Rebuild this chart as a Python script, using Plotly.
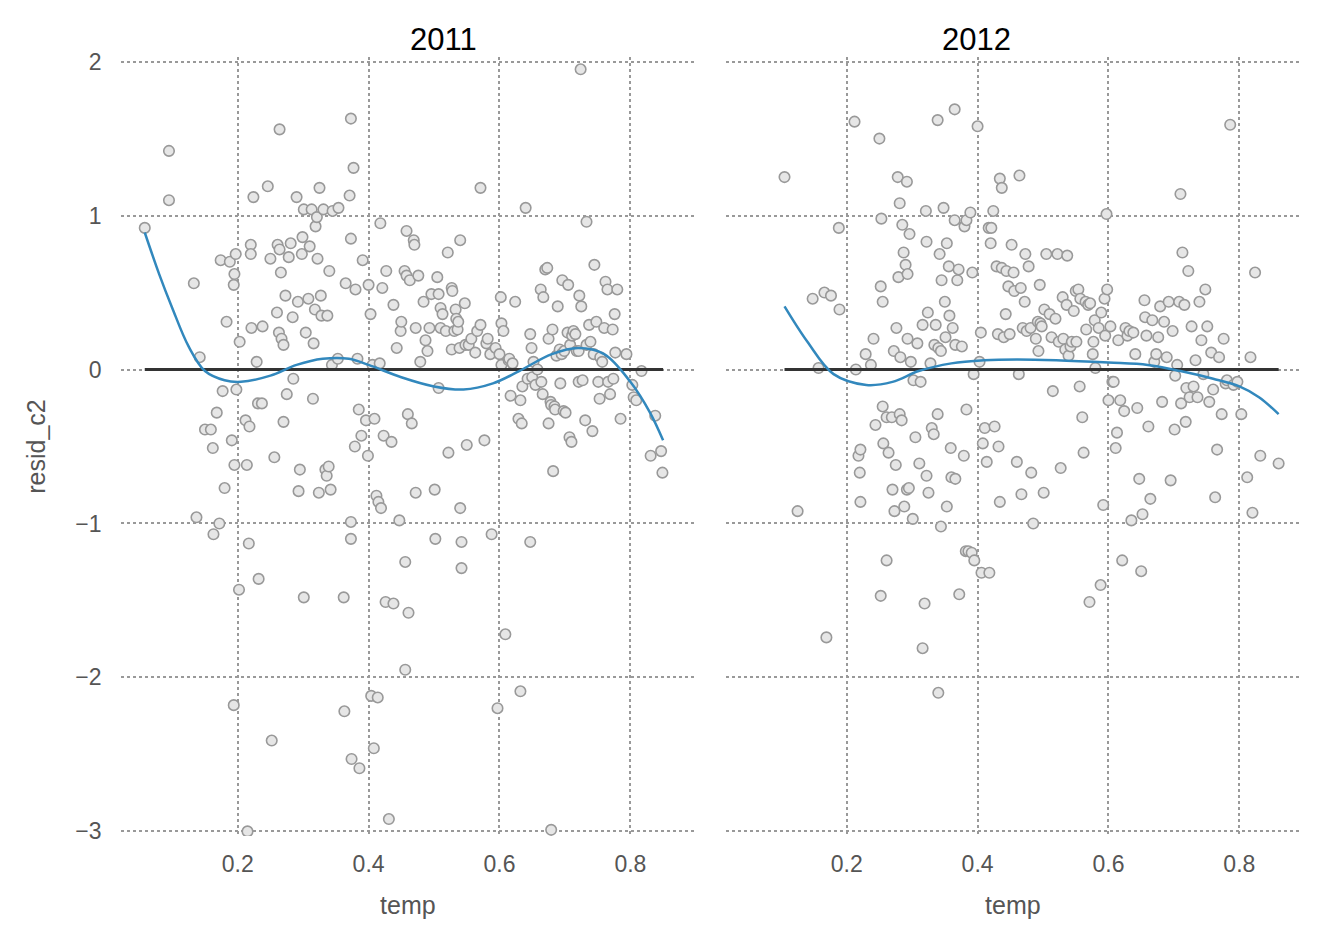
import plotly.graph_objects as go

# ---- 2011 ----
temp_2011 = [0.058,0.095,0.095,0.133,0.142,0.137,0.15,0.159,0.162,0.163,0.168,0.172,0.174,0.177,0.18,0.183,0.188,0.191,0.194,0.195,0.195,0.197,0.198,0.194,0.202,0.203,0.212,0.214,0.217,0.218,0.22,0.22,0.221,0.224,0.229,0.231,0.232,0.237,0.238,0.246,0.25,0.252,0.256,0.26,0.261,0.263,0.264,0.264,0.266,0.267,0.27,0.27,0.273,0.275,0.278,0.281,0.284,0.285,0.29,0.292,0.293,0.295,0.298,0.299,0.301,0.301,0.304,0.308,0.31,0.313,0.315,0.316,0.318,0.319,0.321,0.322,0.324,0.325,0.327,0.328,0.331,0.334,0.336,0.337,0.339,0.34,0.342,0.344,0.345,0.353,0.354,0.362,0.363,0.365,0.371,0.373,0.373,0.373,0.373,0.374,0.377,0.379,0.38,0.383,0.385,0.386,0.389,0.391,0.396,0.399,0.40,0.403,0.404,0.406,0.408,0.409,0.412,0.414,0.415,0.417,0.418,0.419,0.421,0.423,0.426,0.427,0.431,0.435,0.438,0.438,0.443,0.447,0.449,0.45,0.455,0.456,0.458,0.458,0.46,0.461,0.463,0.456,0.466,0.469,0.47,0.472,0.472,0.476,0.479,0.484,0.487,0.49,0.493,0.496,0.501,0.502,0.505,0.507,0.507,0.51,0.51,0.513,0.518,0.521,0.522,0.527,0.527,0.528,0.531,0.533,0.534,0.536,0.537,0.539,0.54,0.54,0.542,0.542,0.547,0.548,0.55,0.553,0.557,0.563,0.566,0.571,0.571,0.577,0.58,0.582,0.586,0.588,0.594,0.597,0.60,0.602,0.603,0.603,0.606,0.609,0.614,0.615,0.617,0.62,0.624,0.629,0.632,0.632,0.634,0.635,0.64,0.643,0.647,0.647,0.649,0.65,0.652,0.655,0.658,0.663,0.664,0.666,0.667,0.67,0.673,0.675,0.675,0.678,0.679,0.679,0.681,0.682,0.684,0.685,0.687,0.689,0.692,0.693,0.695,0.696,0.698,0.699,0.701,0.704,0.705,0.707,0.708,0.71,0.711,0.713,0.716,0.718,0.721,0.721,0.722,0.724,0.725,0.727,0.731,0.733,0.733,0.737,0.739,0.742,0.744,0.745,0.748,0.751,0.753,0.754,0.757,0.76,0.762,0.765,0.766,0.769,0.773,0.774,0.776,0.777,0.78,0.785,0.794,0.803,0.805,0.809,0.817,0.831,0.838,0.847,0.849,0.215]
resid_2011 = [0.92,1.42,1.10,0.56,0.08,-0.96,-0.39,-0.39,-0.51,-1.07,-0.28,-1.00,0.71,-0.14,-0.77,0.31,0.70,-0.46,0.55,0.62,-0.62,0.75,-0.13,-2.18,-1.43,0.18,-0.33,-0.62,-1.13,-0.37,0.81,0.75,0.27,1.12,0.05,-0.22,-1.36,-0.22,0.28,1.19,0.72,-2.41,-0.57,0.37,0.81,0.24,1.56,0.78,0.63,0.20,0.16,-0.34,0.48,-0.16,0.73,0.82,0.34,-0.06,1.12,0.44,-0.79,-0.65,0.75,0.86,1.04,-1.48,0.24,0.46,0.80,1.04,-0.19,0.17,0.39,0.93,0.99,0.72,-0.80,1.18,0.48,0.35,1.04,-0.65,-0.69,0.35,-0.63,0.64,-0.78,0.03,1.03,0.07,1.05,-1.48,-2.22,0.56,1.13,1.63,0.85,-0.99,-1.10,-2.53,1.31,-0.50,0.52,0.07,-0.26,-2.59,-0.43,0.71,-0.33,-0.56,0.55,0.36,-2.12,0.03,-2.46,-0.32,-0.82,-2.13,-0.86,0.04,0.95,-0.90,0.53,-0.43,-1.51,0.64,-2.92,-0.47,0.42,-1.52,0.14,-0.98,0.25,0.31,0.64,-1.25,0.90,0.61,-0.29,-1.58,0.58,-1.95,-0.35,0.84,0.81,0.27,-0.80,0.61,0.05,0.44,0.19,0.12,0.27,0.49,-0.78,-1.10,0.60,0.49,-0.12,0.40,0.27,0.36,0.25,0.76,-0.54,0.53,0.13,0.51,0.25,0.39,0.33,0.26,0.31,0.14,0.84,-0.90,-1.29,-1.12,0.43,0.16,-0.49,0.16,0.20,0.11,0.25,1.18,0.29,-0.46,0.17,0.20,0.10,-1.07,0.14,-2.20,0.10,0.47,0.30,0.03,0.25,-1.72,0.06,0.07,-0.17,0.04,0.44,-0.32,-2.09,-0.20,-0.35,-0.11,1.05,-0.06,0.23,-1.12,0.14,-0.05,0.05,-0.10,0.00,0.52,-0.08,-0.16,0.47,0.65,0.66,0.20,-0.35,-0.21,-2.99,-0.23,0.26,-0.66,-0.24,-0.26,0.09,0.41,0.13,-0.09,0.10,0.58,-0.27,0.12,-0.28,0.24,0.55,-0.44,0.16,-0.47,0.22,0.25,0.23,0.12,0.12,-0.08,0.48,1.95,0.41,-0.07,-0.33,0.96,0.16,0.29,0.18,-0.40,0.10,0.68,0.31,-0.08,-0.19,0.08,0.05,0.27,0.57,0.52,-0.08,-0.16,0.26,-0.06,0.36,0.11,0.52,-0.32,0.10,-0.10,-0.18,-0.20,-0.01,-0.56,-0.30,-0.53,-0.67,-3.0]
smooth_x_2011 = [0.058,0.08,0.10,0.125,0.15,0.18,0.205,0.25,0.29,0.33,0.37,0.40,0.45,0.50,0.545,0.59,0.63,0.68,0.72,0.76,0.80,0.83,0.85]
smooth_y_2011 = [0.89,0.62,0.40,0.15,-0.01,-0.07,-0.08,-0.04,0.03,0.07,0.07,0.03,-0.05,-0.11,-0.13,-0.09,-0.01,0.10,0.14,0.10,-0.08,-0.28,-0.46]

# ---- 2012 ----
temp_2012 = [0.105,0.125,0.148,0.157,0.166,0.169,0.176,0.188,0.189,0.212,0.214,0.218,0.22,0.221,0.221,0.229,0.237,0.241,0.244,0.25,0.252,0.252,0.253,0.255,0.255,0.256,0.261,0.261,0.264,0.269,0.27,0.272,0.273,0.275,0.276,0.278,0.279,0.281,0.281,0.282,0.284,0.285,0.287,0.288,0.29,0.292,0.292,0.293,0.293,0.295,0.296,0.298,0.301,0.302,0.305,0.308,0.311,0.313,0.316,0.316,0.319,0.321,0.322,0.322,0.324,0.325,0.328,0.33,0.333,0.334,0.336,0.339,0.339,0.34,0.34,0.342,0.344,0.344,0.345,0.348,0.35,0.351,0.353,0.353,0.356,0.357,0.359,0.36,0.362,0.365,0.365,0.366,0.366,0.369,0.371,0.372,0.376,0.379,0.38,0.382,0.383,0.383,0.386,0.389,0.391,0.392,0.394,0.395,0.40,0.403,0.405,0.406,0.408,0.411,0.414,0.417,0.418,0.42,0.421,0.424,0.426,0.429,0.431,0.432,0.434,0.434,0.437,0.437,0.44,0.443,0.444,0.447,0.449,0.452,0.455,0.456,0.46,0.463,0.464,0.466,0.467,0.469,0.472,0.473,0.475,0.478,0.481,0.482,0.485,0.489,0.492,0.493,0.495,0.496,0.498,0.501,0.502,0.505,0.51,0.513,0.515,0.519,0.522,0.524,0.527,0.53,0.531,0.534,0.536,0.537,0.539,0.542,0.544,0.547,0.55,0.551,0.554,0.556,0.557,0.56,0.562,0.565,0.566,0.569,0.571,0.572,0.576,0.577,0.579,0.58,0.585,0.588,0.589,0.592,0.594,0.595,0.597,0.598,0.60,0.603,0.606,0.608,0.611,0.613,0.615,0.618,0.621,0.624,0.626,0.629,0.632,0.635,0.638,0.641,0.644,0.647,0.65,0.652,0.655,0.656,0.658,0.661,0.664,0.667,0.67,0.673,0.676,0.679,0.682,0.685,0.689,0.692,0.695,0.698,0.701,0.702,0.705,0.708,0.71,0.711,0.713,0.716,0.718,0.719,0.722,0.724,0.727,0.73,0.733,0.736,0.739,0.742,0.745,0.748,0.751,0.754,0.757,0.76,0.763,0.766,0.769,0.773,0.776,0.779,0.781,0.786,0.791,0.797,0.803,0.812,0.817,0.82,0.824,0.832,0.86]
resid_2012 = [1.25,-0.92,0.46,0.01,0.50,-1.74,0.48,0.92,0.39,1.61,0.00,-0.56,-0.67,-0.52,-0.86,0.10,0.03,0.20,-0.36,1.50,0.54,-1.47,0.98,0.44,-0.24,-0.48,-1.24,-0.31,-0.54,-0.31,-0.78,0.12,-0.92,-0.62,0.27,1.25,0.60,1.08,-0.29,0.08,-0.33,0.94,0.76,-0.89,0.68,1.22,-0.78,0.20,0.62,-0.77,0.88,0.05,-0.97,-0.07,-0.44,0.17,-0.61,-0.08,-1.81,0.29,-1.52,1.03,0.83,-0.69,0.37,-0.80,0.04,-0.38,-0.42,0.16,0.29,-0.29,1.62,-2.10,0.14,0.75,0.12,-1.02,0.58,1.05,0.44,0.21,0.82,-0.89,0.67,0.35,-0.51,-0.70,0.27,1.69,0.97,0.16,-0.71,0.58,0.65,-1.46,0.15,-0.56,0.93,-1.18,0.97,-0.26,-1.18,1.02,-1.19,0.63,-0.03,-1.24,1.58,0.05,0.24,-1.32,-0.48,-0.38,-0.60,0.92,-1.32,0.82,0.92,1.03,-0.37,0.67,0.23,-0.50,1.24,-0.86,1.18,0.66,0.21,0.36,0.64,0.54,0.23,0.81,0.63,0.51,-0.60,-0.03,1.26,0.53,-0.81,0.27,0.44,0.75,0.25,0.67,0.27,-0.67,-1.00,0.20,0.31,0.12,0.55,0.30,0.28,-0.80,0.39,0.75,0.36,0.21,-0.14,0.33,0.75,0.18,-0.64,0.47,0.20,0.13,0.42,0.74,0.09,0.15,0.18,0.38,0.51,0.18,0.52,-0.11,0.46,-0.31,-0.54,0.44,0.26,0.42,-1.51,0.43,0.10,0.18,0.32,0.01,0.27,-1.40,0.37,-0.88,0.46,0.22,1.01,0.52,-0.20,0.28,-0.08,-0.08,-0.51,-0.41,0.19,-0.20,-1.24,-0.27,0.27,0.22,0.25,-0.98,0.24,0.10,-0.25,-0.71,-1.31,-0.94,0.45,0.34,0.22,-0.37,-0.84,0.32,0.05,0.10,0.21,0.41,-0.21,0.31,0.08,0.44,-0.72,0.25,-0.39,-0.04,0.03,0.44,1.14,-0.22,0.76,0.42,-0.34,-0.12,0.64,-0.18,0.28,-0.11,0.06,-0.18,0.44,0.19,-0.03,0.52,0.28,-0.21,0.11,-0.13,-0.83,-0.52,0.08,-0.29,0.20,-0.09,-0.07,1.59,-0.10,-0.08,-0.29,-0.70,0.08,-0.93,0.63,-0.56,-0.61]
smooth_x_2012 = [0.105,0.14,0.18,0.23,0.27,0.31,0.36,0.41,0.46,0.52,0.60,0.66,0.71,0.76,0.80,0.83,0.86]
smooth_y_2012 = [0.41,0.18,-0.03,-0.10,-0.08,-0.01,0.04,0.06,0.065,0.06,0.045,0.03,-0.01,-0.06,-0.11,-0.18,-0.29]

years = ["2011", "2012"]
panels = [(temp_2011, resid_2011, smooth_x_2011, smooth_y_2011),
          (temp_2012, resid_2012, smooth_x_2012, smooth_y_2012)]

FONT = "Liberation Sans, Arial, sans-serif"
fig = go.Figure()
domains = [[0.085, 0.519], [0.542, 0.976]]
for i, (tx, ry, sx, sy) in enumerate(panels):
    xa = "x" if i == 0 else "x2"
    ya = "y" if i == 0 else "y2"
    fig.add_trace(go.Scatter(x=tx, y=ry, mode="markers", xaxis=xa, yaxis=ya,
                             marker=dict(size=10.5, color="#e6e6e6", line=dict(color="#999999", width=1.6)),
                             showlegend=False))
    fig.add_trace(go.Scatter(x=[sx[0], sx[-1]], y=[0, 0], mode="lines", xaxis=xa, yaxis=ya,
                             line=dict(color="#333333", width=3), showlegend=False))
    fig.add_trace(go.Scatter(x=sx, y=sy, mode="lines", xaxis=xa, yaxis=ya, line_shape="spline",
                             line=dict(color="#3288bd", width=2.5), showlegend=False))
    fig.add_annotation(text=years[i], x=sum(domains[i]) / 2, y=1.0, xref="paper", yref="paper",
                       yanchor="bottom", yshift=-2, showarrow=False, font=dict(size=31, color="black", family=FONT))

axis_common = dict(showgrid=True, gridcolor="#999999", griddash="dot", gridwidth=2, zeroline=False,
                   showline=False, ticks="", tickfont=dict(size=23, color="#555555", family=FONT))
fig.update_layout(
    width=1324, height=940, plot_bgcolor="white", paper_bgcolor="white",
    margin=dict(l=0, r=0, t=49, b=112),
    xaxis=dict(domain=domains[0], range=[0.021, 0.899], tickvals=[0.2, 0.4, 0.6, 0.8], ticklabelstandoff=12,
               title=dict(text="temp", font=dict(size=25, color="#555555", family=FONT), standoff=20), **axis_common),
    xaxis2=dict(domain=domains[1], range=[0.015, 0.893], tickvals=[0.2, 0.4, 0.6, 0.8], ticklabelstandoff=12,
                title=dict(text="temp", font=dict(size=25, color="#555555", family=FONT), standoff=20), **axis_common),
    yaxis=dict(range=[-3.03, 2.03], tickvals=[-3, -2, -1, 0, 1, 2], ticktext=["−3", "−2", "−1", "0", "1", "2"],
               ticklabelstandoff=18,
               title=dict(text="resid_c2", font=dict(size=25, color="#555555", family=FONT), standoff=22), **axis_common),
    yaxis2=dict(range=[-3.03, 2.03], anchor="x2", tickvals=[-3, -2, -1, 0, 1, 2], showticklabels=False, **axis_common),
)
fig.write_html("out.html")
